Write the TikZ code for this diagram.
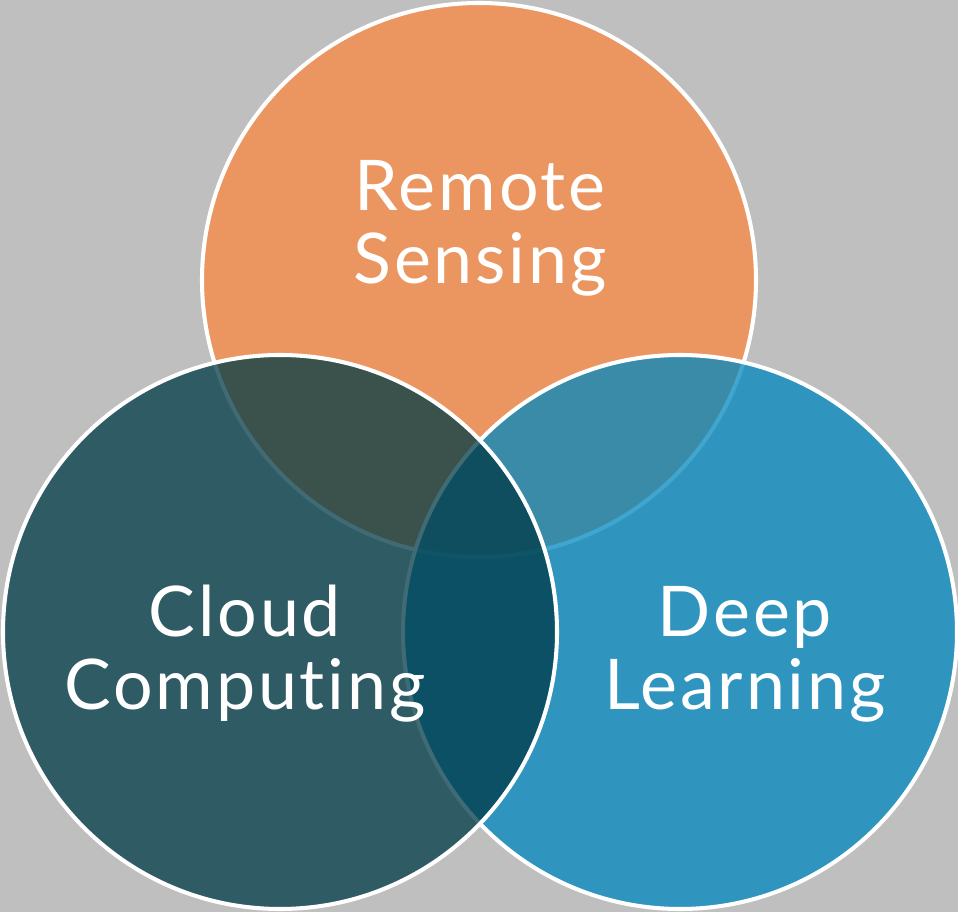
\documentclass[tikz,border=0pt]{standalone}
\usepackage{fontspec}
\setmainfont{Lato}[Ligatures=NoCommon, LetterSpace=4]
\usepackage{tikz}
\usetikzlibrary{positioning, backgrounds}

\definecolor{bggray}{RGB}{191,191,191}
\definecolor{rsorange}{RGB}{235,150,96}
\definecolor{dlblue}{RGB}{0,136,192}
\definecolor{ccteal}{RGB}{0,58,70}

\begin{document}
\begin{tikzpicture}[
    every node/.style={align=center},
    venn/.style={draw=white, line width=2.3pt, circle, inner sep=0pt,
                 minimum size=11.08cm},
    vlabel/.style={text=white, font=\fontsize{39.8pt}{41.5pt}\selectfont}
]
\fill[bggray] (0,0) rectangle (19.16,18.24);
\useasboundingbox (0,0) rectangle (19.16,18.24);

\node[venn, fill=rsorange] (rs) at ( 9.58, 12.64) {};
\node[venn, fill=dlblue, fill opacity=0.75] (dl) at (13.60, 5.60) {};
\node[venn, fill=ccteal, fill opacity=0.75] (cc) at ( 5.60, 5.60) {};

\node[vlabel] (rstext) at ( 9.60, 13.68) {Remote\\Sensing};
\node[vlabel] (cctext) at ( 4.90,  5.17) {Cloud\\Computing};
\node[vlabel] (dltext) at (14.90,  5.15) {Deep\\Learning};
\end{tikzpicture}
\end{document}
